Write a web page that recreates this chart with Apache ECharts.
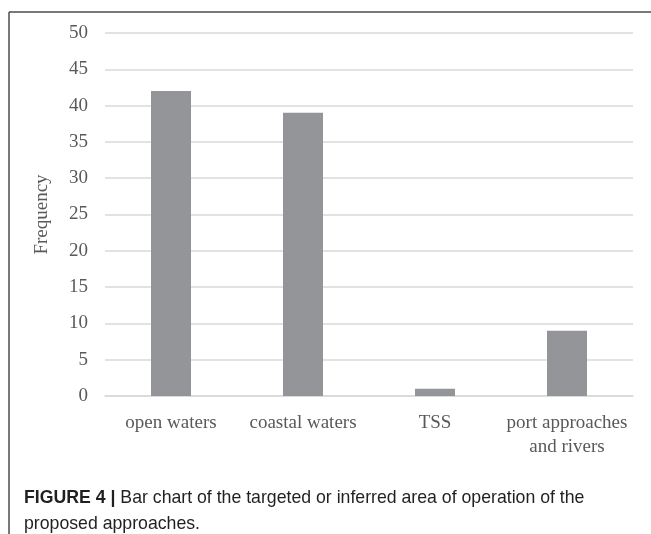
<!DOCTYPE html>
<html>
<head>
<meta charset="utf-8">
<script src="https://cdn.jsdelivr.net/npm/echarts@6/dist/echarts.min.js"></script>
<style>
  html, body { margin: 0; padding: 0; background: #fff; }
  #chart { width: 651px; height: 534px; }
</style>
</head>
<body>
<div id="chart"></div>
<script>
// data
const categories = ["open waters", "coastal waters", "TSS", "port approaches\nand rivers"];
const frequency = [42, 39, 1, 9];
const yTicks = { min: 0, max: 50, interval: 5 };
const captionLines = [
  ["FIGURE 4 | ", "Bar chart of the targeted or inferred area of operation of the"],
  ["", "proposed approaches."]
];

const serif = "'Liberation Serif', 'Times New Roman', serif";
const sans = "'Liberation Sans', Arial, sans-serif";
const grey = "#595959";

const chart = echarts.init(document.getElementById("chart"));

chart.setOption({
  animation: false,
  grid: { left: 105, right: 18, top: 33, bottom: 138 },
  xAxis: {
    type: "category",
    data: categories,
    axisTick: { show: false },
    axisLine: { lineStyle: { color: "#d9d9d9", width: 1.5 } },
    axisLabel: {
      color: grey, fontFamily: serif, fontSize: 19,
      lineHeight: 24, margin: 15, interval: 0
    }
  },
  yAxis: {
    type: "value",
    min: yTicks.min, max: yTicks.max, interval: yTicks.interval,
    name: "Frequency",
    nameLocation: "middle",
    nameGap: 53,
    nameTextStyle: { color: grey, fontFamily: serif, fontSize: 19 },
    axisLine: { show: false },
    axisTick: { show: false },
    axisLabel: { color: grey, fontFamily: serif, fontSize: 19, margin: 17 },
    splitLine: { lineStyle: { color: "#d9d9d9", width: 1.5 } }
  },
  series: [{
    type: "bar",
    data: frequency,
    barWidth: 40,
    itemStyle: { color: "#939598" }
  }],
  graphic: [
    // frame lines (top and left)
    { type: "line", shape: { x1: 9, y1: 12, x2: 651, y2: 12 }, style: { stroke: "#4d4d4d", lineWidth: 1.5 } },
    { type: "line", shape: { x1: 9, y1: 12, x2: 9, y2: 534 }, style: { stroke: "#4d4d4d", lineWidth: 1.5 } },
    {
      type: "text", left: 24, top: 485,
      style: {
        text: "{b|" + captionLines[0][0] + "}" + captionLines[0][1] + "\n" + captionLines[1][1],
        font: "17.7px " + sans,
        fill: "#231f20",
        lineHeight: 26,
        rich: {
          b: { fontFamily: sans, fontSize: 17.7, fontWeight: "bold", fill: "#231f20", lineHeight: 26 }
        }
      }
    }
  ]
});
</script>
</body>
</html>
